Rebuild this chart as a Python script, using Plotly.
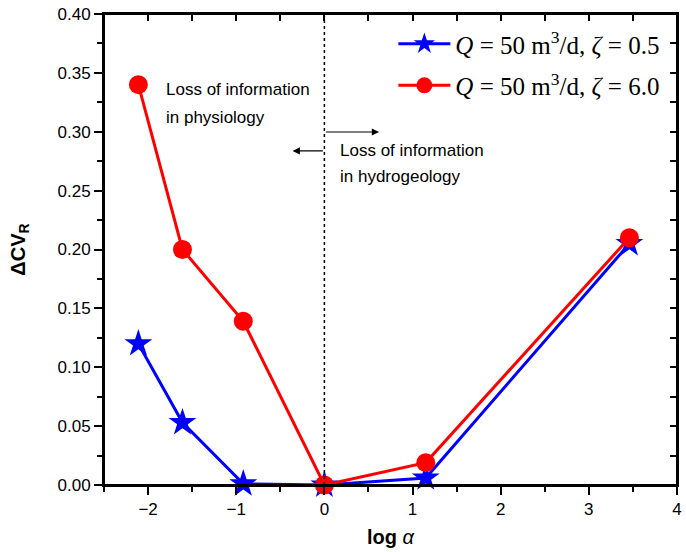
import plotly.graph_objects as go

log_alpha = [-2.11, -1.61, -0.92, 0.0, 1.15, 3.46]
dcv_zeta05 = [0.120, 0.053, 0.001, 0.000, 0.006, 0.205]
dcv_zeta60 = [0.340, 0.200, 0.139, 0.000, 0.019, 0.210]

name_blue = "<i>Q</i> = 50 m<sup>3</sup>/d, <i>ζ</i> = 0.5"
name_red = "<i>Q</i> = 50 m<sup>3</sup>/d, <i>ζ</i> = 6.0"

x_range = [-2.5, 4.0]
y_range = [0.0, 0.40]
x_ticks_top = [-2.5, -2, -1.5, -1, -0.5, 0, 0.5, 1, 1.5, 2, 2.5, 3, 3.5, 4]
y_ticks_right = [0.0, 0.025, 0.05, 0.075, 0.10, 0.125, 0.15, 0.175, 0.20,
                 0.225, 0.25, 0.275, 0.30, 0.325, 0.35, 0.375, 0.40]

SANS = "Liberation Sans, Arial, sans-serif"
SERIF = "Liberation Serif, Times New Roman, serif"

fig = go.Figure()
fig.add_trace(go.Scatter(
    x=log_alpha, y=dcv_zeta05, mode="lines+markers", name=name_blue,
    line=dict(color="#0000ff", width=3),
    marker=dict(symbol="star", size=21, color="#0000ff", line=dict(width=0)),
    legendgroup="a", cliponaxis=False,
))
fig.add_trace(go.Scatter(
    x=log_alpha, y=dcv_zeta60, mode="lines+markers", name=name_red,
    line=dict(color="#ff0000", width=3),
    marker=dict(symbol="circle", size=19, color="#ff0000", line=dict(width=0)),
    legendgroup="b", cliponaxis=False,
))
# invisible trace on the secondary (top/right) axes that carry inward ticks
fig.add_trace(go.Scatter(x=[0.5], y=[0.2], xaxis="x2", yaxis="y2",
                         mode="markers", marker=dict(color="rgba(0,0,0,0)", size=2),
                         showlegend=False, hoverinfo="skip"))

# frame around the plotting area (top and right edges of the box)
fig.add_shape(type="rect", xref="paper", yref="paper", x0=0, x1=1, y0=0, y1=1,
              line=dict(color="black", width=2), fillcolor="rgba(0,0,0,0)", layer="above")

# vertical dotted line at log alpha = 0
fig.add_shape(type="line", x0=0, x1=0, y0=y_range[0], y1=y_range[1],
              xref="x", yref="y", line=dict(color="black", width=1.5, dash="dot"))

ann = []
def txt(x, y, s):
    ann.append(dict(x=x, y=y, xref="x", yref="y", text=s, showarrow=False,
                    xanchor="left", yanchor="middle",
                    font=dict(family=SANS, size=17, color="black")))
txt(-1.82, 0.3355, "Loss of information")
txt(-1.82, 0.3125, "in physiology")
txt(0.15, 0.2845, "Loss of information")
txt(0.15, 0.2624, "in hydrogeology")

# arrows
ann.append(dict(x=0.62, y=0.2998, ax=0.0, ay=0.2998, xref="x", yref="y",
                axref="x", ayref="y", text="", showarrow=True, arrowhead=2,
                arrowsize=1.2, arrowwidth=1.2, arrowcolor="black"))
ann.append(dict(x=-0.36, y=0.2837, ax=0.0, ay=0.2837, xref="x", yref="y",
                axref="x", ayref="y", text="", showarrow=True, arrowhead=2,
                arrowsize=1.2, arrowwidth=1.2, arrowcolor="black"))

fig.update_layout(
    width=686, height=552,
    margin=dict(l=104, r=4, t=14, b=67),
    paper_bgcolor="white", plot_bgcolor="white",
    showlegend=True,
    legend=dict(x=0.505, y=0.985, xanchor="left", yanchor="top",
                bgcolor="rgba(0,0,0,0)", borderwidth=0,
                font=dict(family=SERIF, size=25, color="black"),
                itemwidth=52, traceorder="grouped", tracegroupgap=6),
    annotations=ann,
    xaxis=dict(
        range=x_range, dtick=1, tick0=0, showgrid=False, zeroline=False,
        showline=True, mirror=True, linecolor="black", linewidth=1.8,
        ticks="outside", ticklen=8, tickwidth=1.5, tickcolor="black",
        minor=dict(dtick=0.5, tick0=0, ticks="outside", ticklen=5, tickwidth=1.5, tickcolor="black"),
        tickfont=dict(family=SANS, size=17, color="black"),
        ticklabeloverflow="allow",
        title=dict(text="<b>log</b> <i>α</i>", font=dict(family=SANS, size=20, color="black"), standoff=12),
    ),
    yaxis=dict(
        range=y_range, dtick=0.05, tick0=0, tickformat=".2f", showgrid=False, zeroline=False,
        showline=True, mirror=True, linecolor="black", linewidth=1.8,
        ticks="outside", ticklen=8, tickwidth=1.5, tickcolor="black",
        minor=dict(dtick=0.025, tick0=0, ticks="outside", ticklen=5, tickwidth=1.5, tickcolor="black"),
        tickfont=dict(family=SANS, size=17, color="black"),
        ticklabeloverflow="allow",
        title=dict(text="<b>ΔCV<sub>R</sub></b>", font=dict(family=SANS, size=20, color="black"), standoff=27),
    ),
    xaxis2=dict(
        range=x_range, overlaying="x", side="top", anchor="y2",
        tickmode="array", tickvals=x_ticks_top, showticklabels=False,
        showgrid=False, zeroline=False, showline=False,
        ticks="inside", ticklen=7, tickwidth=1.5, tickcolor="black",
    ),
    yaxis2=dict(
        range=y_range, overlaying="y", side="right", anchor="x2",
        tickmode="array", tickvals=y_ticks_right, showticklabels=False,
        showgrid=False, zeroline=False, showline=False,
        ticks="inside", ticklen=7, tickwidth=1.5, tickcolor="black",
    ),
)

fig.write_html("out.html")
